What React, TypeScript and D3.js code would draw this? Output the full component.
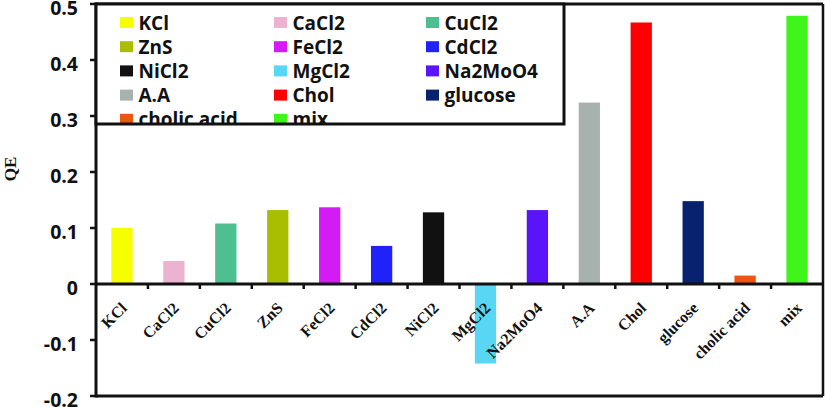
import React from "react";
import * as d3 from "d3";

const categories = ["KCl", "CaCl2", "CuCl2", "ZnS", "FeCl2", "CdCl2", "NiCl2", "MgCl2", "Na2MoO4", "A.A", "Chol", "glucose", "cholic acid", "mix"];
const values = [0.1, 0.041, 0.108, 0.132, 0.137, 0.068, 0.128, -0.142, 0.132, 0.324, 0.467, 0.148, 0.015, 0.479];
const colors = ["#f5ff00", "#ebb3d0", "#4dbf90", "#a9be00", "#d41af5", "#2121fa", "#111111", "#5ad6f5", "#5a14fa", "#a7b1ae", "#ff0000", "#08226f", "#f05510", "#3ff51a"];
const yTicks = [-0.2, -0.1, 0, 0.1, 0.2, 0.3, 0.4, 0.5];
const yTickLabels = ["-0.2", "-0.1", "0", "0.1", "0.2", "0.3", "0.4", "0.5"];

const W = 826, H = 407;
const left = 96, right = 823, top = 4, bottom = 396;

export default function App() {
  const x = d3.scaleBand<string>().domain(categories).range([left, right]).paddingInner(0).paddingOuter(0);
  const y = d3.scaleLinear().domain([-0.2, 0.5]).range([bottom, top]);
  const bw = x.bandwidth() * 0.41;
  const sans = "'Open Sans', 'Liberation Sans', Arial, sans-serif";
  const serif = "'Liberation Serif', 'Times New Roman', serif";

  const legX = [120, 274, 426];
  const legRow0 = 22.5, legStep = 24.2;
  const legRight = 564, legBottom = 124;

  return (
    <svg width={W} height={H} style={{ position: "absolute", left: 0, top: 0, background: "#fff" }}>
      <rect x={0} y={0} width={W} height={H} fill="#fff" />
      <defs>
        <clipPath id="legclip">
          <rect x={left} y={top} width={legRight - left} height={legBottom - top} />
        </clipPath>
      </defs>
      {/* bars */}
      {categories.map((c, i) => {
        const v = values[i];
        const x0 = (x(c) as number) + (x.bandwidth() - bw) / 2;
        return (
          <rect key={c} x={x0} width={bw} y={Math.min(y(v), y(0))} height={Math.abs(y(v) - y(0))} fill={colors[i]} />
        );
      })}
      {/* plot border */}
      <line x1={left} x2={right} y1={top} y2={top} stroke="#111" strokeWidth={3} />
      <line x1={right} x2={right} y1={top} y2={bottom} stroke="#111" strokeWidth={2.5} />
      <line x1={left} x2={right} y1={bottom} y2={bottom} stroke="#111" strokeWidth={3} />
      {/* y axis */}
      <line x1={left} x2={left} y1={top - 1.5} y2={bottom + 1.5} stroke="#111" strokeWidth={3} />
      {yTicks.map((t, i) => (
        <g key={t}>
          <line x1={left - 6} x2={left} y1={y(t)} y2={y(t)} stroke="#111" strokeWidth={2.5} />
          <text x={78} y={y(t) + 10.5} textAnchor="end" fontFamily={sans} fontWeight="bold" fontSize={19.5} fill="#111">
            {yTickLabels[i]}
          </text>
        </g>
      ))}
      {/* zero line */}
      <line x1={left} x2={right} y1={y(0)} y2={y(0)} stroke="#111" strokeWidth={3} />
      {categories.slice(1).map((c) => (
        <line key={c} x1={x(c) as number} x2={x(c) as number} y1={y(0)} y2={y(0) + 5} stroke="#111" strokeWidth={2.5} />
      ))}
      {/* x labels */}
      {categories.map((c) => {
        const ax = (x(c) as number) + x.bandwidth() / 2 + 6;
        const ay = y(0) + 25;
        return (
          <text key={c} x={ax} y={ay} transform={`rotate(-45 ${ax} ${ay})`} textAnchor="end" fontFamily={serif} fontWeight="bold" fontSize={16} fill="#111">
            {c}
          </text>
        );
      })}
      {/* y label */}
      <text x={16} y={169} transform={`rotate(-90 16 169)`} textAnchor="middle" fontFamily={serif} fontWeight="bold" fontSize={17} fill="#111">
        QE
      </text>
      {/* legend */}
      <rect x={left} y={top} width={legRight - left} height={legBottom - top} fill="#fff" />
      <g clipPath="url(#legclip)">
        {categories.map((c, i) => {
          const col = i % 3, row = Math.floor(i / 3);
          const cy = legRow0 + row * legStep;
          return (
            <g key={c}>
              <rect x={legX[col]} y={cy - 5.5} width={13} height={11} fill={colors[i]} />
              <text x={legX[col] + 18.5} y={cy + 7} fontFamily={sans} fontWeight="bold" fontSize={19} fill="#111">
                {c}
              </text>
            </g>
          );
        })}
      </g>
      <rect x={left} y={top} width={legRight - left} height={legBottom - top} fill="none" stroke="#111" strokeWidth={3} />
    </svg>
  );
}
